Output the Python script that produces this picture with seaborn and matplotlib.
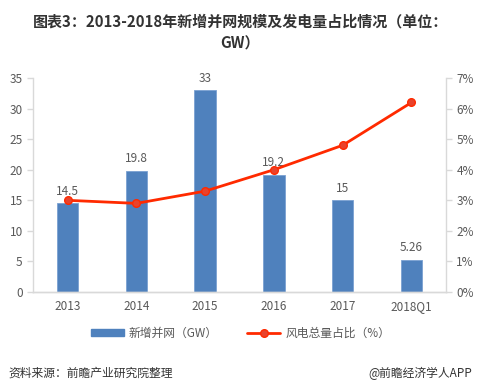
import matplotlib.pyplot as plt
import seaborn as sns
import pandas as pd
import numpy as np
from matplotlib.ticker import FuncFormatter
from matplotlib.patches import Patch
from matplotlib.lines import Line2D

years = ['2013', '2014', '2015', '2016', '2017', '2018Q1']
new_grid = [14.5, 19.8, 33, 19.2, 15, 5.26]
bar_labels = ['14.5', '19.8', '33', '19.2', '15', '5.26']
wind_share = [3.0, 2.9, 3.3, 4.0, 4.8, 6.2]

sns.set_style('white')
plt.rcParams['font.family'] = ['Noto Sans CJK SC', 'DejaVu Sans']
plt.rcParams['axes.unicode_minus'] = False

GRAY_TXT = '#595959'
AXIS_C = '#d9d9d9'
BAR_C = '#4f81bd'
LINE_C = '#ff2a00'

fig = plt.figure(figsize=(4.81, 3.92), dpi=100)
ax = fig.add_axes([0.069, 0.255, 0.858, 0.546])

df = pd.DataFrame({'year': years, 'gw': new_grid, 'pct': wind_share})

# bars: new grid-connected capacity
sns.barplot(data=df, x='year', y='gw', ax=ax, color=BAR_C, width=0.31,
            edgecolor='#7aa1d2', linewidth=0.6, saturation=1)
for i, (v, s) in enumerate(zip(new_grid, bar_labels)):
    ax.text(i, v + 0.9, s, ha='center', va='bottom', fontsize=8.5, color=GRAY_TXT)

ax.set_ylim(0, 35)
ax.set_yticks(range(0, 36, 5))
ax.set_xlim(-0.5, 5.5)
ax.set_xlabel('')
ax.set_ylabel('')

# line: share of total power generation
ax2 = ax.twinx()
df['pos'] = np.arange(len(years))
sns.lineplot(data=df, x='pos', y='pct', ax=ax2, color=LINE_C, linewidth=2,
             marker='o', markersize=5.5, markerfacecolor='#e8432c',
             markeredgecolor=LINE_C, markeredgewidth=1)
ax2.set_ylim(0, 7)
ax2.set_yticks(range(0, 8))
ax2.yaxis.set_major_formatter(FuncFormatter(lambda v, p: f'{int(v)}%'))
ax2.set_xlim(-0.5, 5.5)
ax2.set_xlabel('')
ax2.set_ylabel('')

for a in (ax, ax2):
    a.spines['top'].set_visible(False)
    for side in ('left', 'right', 'bottom'):
        a.spines[side].set_color(AXIS_C)
        a.spines[side].set_linewidth(1)
    a.tick_params(axis='both', colors=AXIS_C, labelcolor=GRAY_TXT, labelsize=8.5,
                  length=4, width=1, direction='out')
ax.spines['right'].set_visible(False)
ax2.spines['left'].set_visible(False)

ax.tick_params(axis='x', length=0, pad=6)
ax.set_xticks(np.arange(-0.5, 6, 1), minor=True)
ax.tick_params(axis='x', which='minor', length=4, color=AXIS_C, width=1)
ax2.tick_params(axis='x', length=0, labelbottom=False)

# legend
handles = [Patch(facecolor=BAR_C, edgecolor=BAR_C),
           Line2D([0], [0], color=LINE_C, lw=2, marker='o', markersize=5.5,
                  markerfacecolor='#e8432c', markeredgecolor=LINE_C)]
fig.legend(handles, ['新增并网（GW）', '风电总量占比（%）'], loc='center',
           bbox_to_anchor=(0.5, 1 - 333 / 392), ncol=2, frameon=False,
           fontsize=8.5, labelcolor=GRAY_TXT, handlelength=2.8, handleheight=0.5,
           columnspacing=2.5, handletextpad=0.4)

fig.text(0.5, 1 - 22 / 392, '图表3：2013-2018年新增并网规模及发电量占比情况（单位：',
         ha='center', va='center', fontsize=10.8, fontweight='bold', color='#333333')
fig.text(0.5, 1 - 44 / 392, 'GW）', ha='center', va='center', fontsize=10.8,
         fontweight='bold', color='#333333')

fig.text(8 / 481, 1 - 373 / 392, '资料来源：前瞻产业研究院整理', ha='left', va='center',
         fontsize=8.5, style='italic', color='#333333')
fig.text(472 / 481, 1 - 373 / 392, '@前瞻经济学人APP', ha='right', va='center',
         fontsize=8.5, color='#333333')

fig.savefig('out.png', dpi=100)
